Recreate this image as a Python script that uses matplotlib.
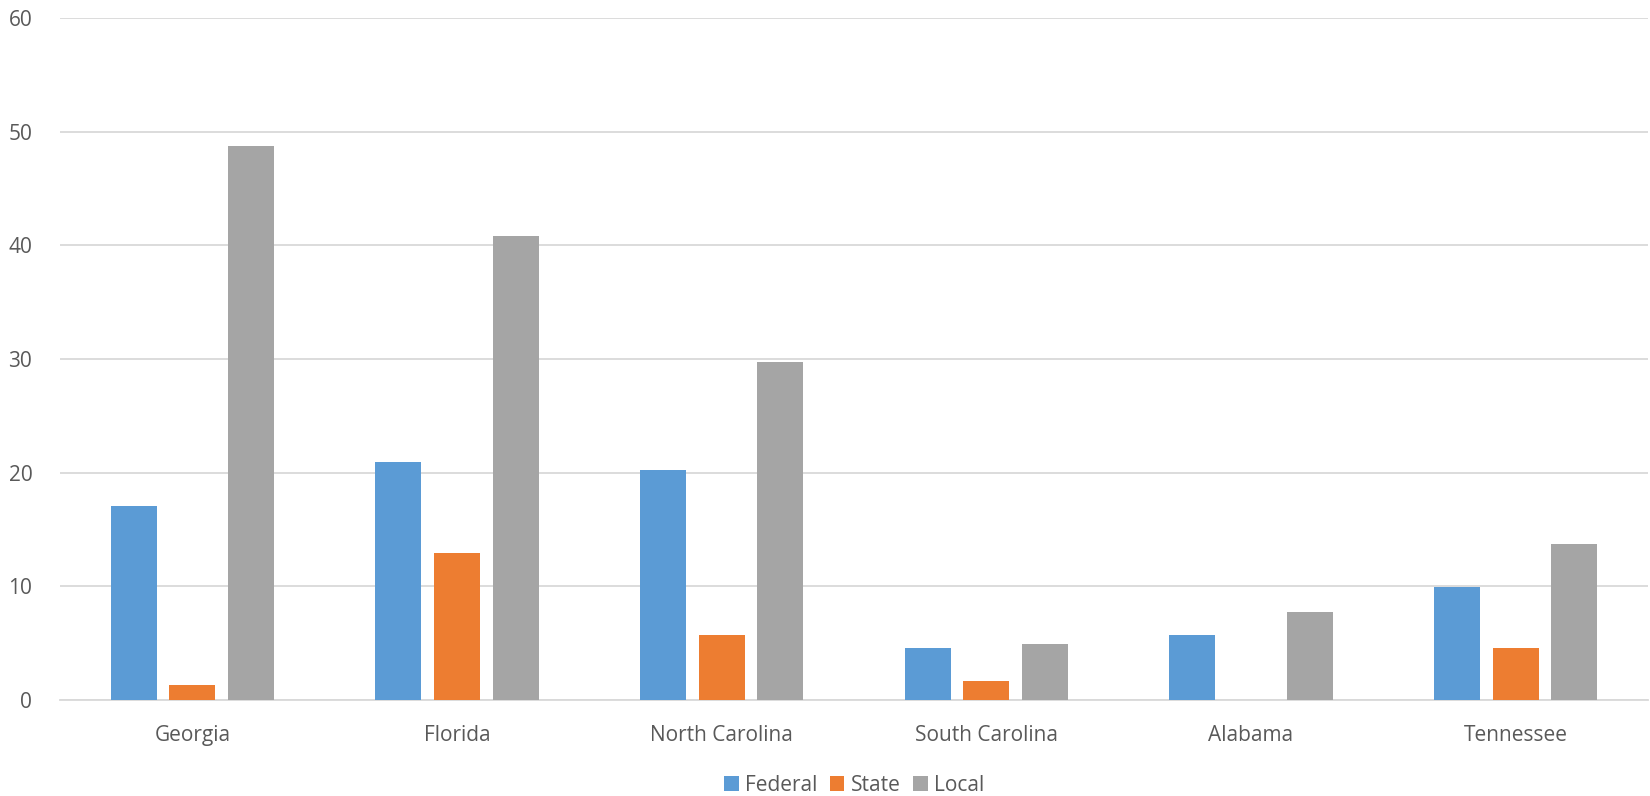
import numpy as np
import matplotlib.pyplot as plt

states = ['Georgia', 'Florida', 'North Carolina', 'South Carolina', 'Alabama', 'Tennessee']
federal = [17.1, 20.9, 20.2, 4.6, 5.75, 9.9]
state = [1.3, 12.9, 5.7, 1.7, 0.0, 4.6]
local = [48.7, 40.8, 29.7, 4.9, 7.7, 13.7]

series = [('Federal', federal, '#5B9BD5'),
          ('State', state, '#ED7D31'),
          ('Local', local, '#A5A5A5')]

plt.rcParams['font.family'] = ['Open Sans', 'DejaVu Sans']

fig = plt.figure(figsize=(16.5, 7.96), dpi=100)
ax = fig.add_axes([0.0364, 0.1206, 0.9624, 0.8568])

x = np.arange(len(states))
width = 0.174
step = 0.222
for i, (name, vals, color) in enumerate(series):
    ax.bar(x + (i - 1) * step, vals, width, color=color, label=name, zorder=3)

ax.set_xlim(-0.5, len(states) - 0.5)
ax.set_ylim(0, 60)
ax.set_yticks(range(0, 61, 10))
ax.set_xticks(x)
ax.set_xticklabels(states)
ax.grid(axis='y', color='#d9d9d9', linewidth=1.3, zorder=0)
for s in ['top', 'right', 'left']:
    ax.spines[s].set_visible(False)
ax.spines['bottom'].set_color('#d9d9d9')
ax.spines['bottom'].set_linewidth(1.3)
ax.tick_params(axis='both', length=0, labelsize=15, colors='#595959')
ax.tick_params(axis='x', pad=18)
ax.tick_params(axis='y', pad=20)

ax.legend(loc='center', bbox_to_anchor=(0.5, -0.125), ncol=3, frameon=False,
          fontsize=15, labelcolor='#595959', handlelength=0.7, handleheight=0.7,
          handletextpad=0.3, columnspacing=0.6, borderpad=0)

fig.savefig('out.png', dpi=100)
